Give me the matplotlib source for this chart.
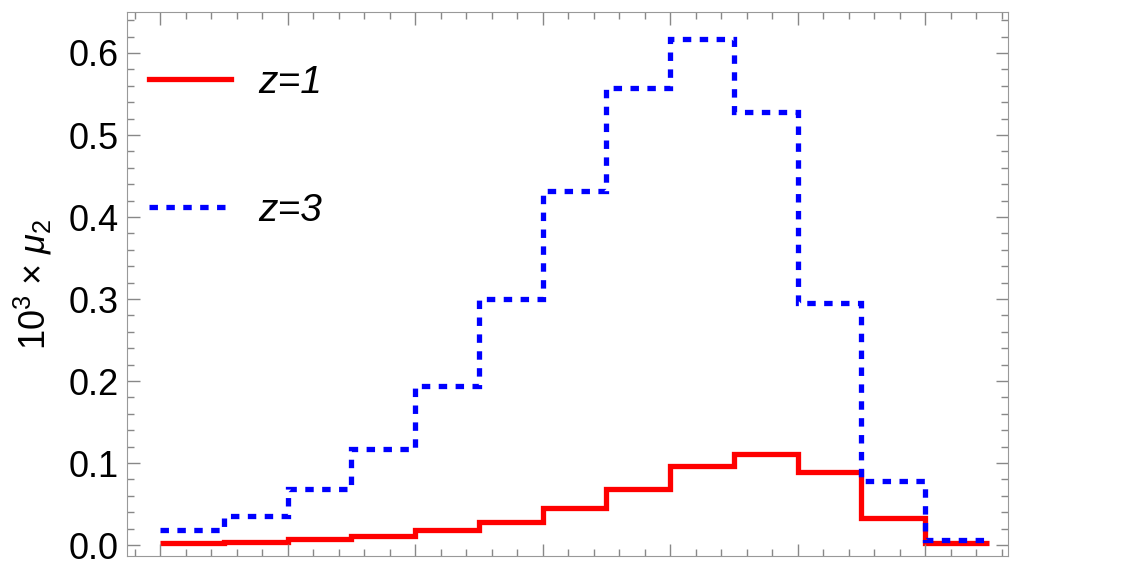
import numpy as np
import matplotlib
matplotlib.use('Agg')
from matplotlib import pyplot as plt
from matplotlib.ticker import MultipleLocator

plt.rcParams['font.family'] = ['Liberation Sans', 'DejaVu Sans']
plt.rcParams['mathtext.fontset'] = 'custom'
plt.rcParams['mathtext.rm'] = 'Liberation Sans'
plt.rcParams['mathtext.it'] = 'Liberation Sans:italic'

# bin edges and heights
edges = [0.0, 0.5, 1.0, 1.5, 2.0, 2.5, 3.0, 3.5, 4.0, 4.5, 5.0, 5.5, 6.0, 6.5]
mu_z1 = [0.002, 0.004, 0.007, 0.011, 0.018, 0.028, 0.045, 0.068, 0.096, 0.111, 0.089, 0.033, 0.003]
mu_z3 = [0.018, 0.035, 0.068, 0.117, 0.194, 0.300, 0.432, 0.557, 0.617, 0.528, 0.295, 0.078, 0.006]

fig = plt.figure(figsize=(11.48, 5.63), dpi=100)
ax = fig.add_axes([0.1106, 0.0124, 0.7675, 0.9663])

ax.stairs(mu_z1, edges, color='red', lw=3.8, label='z=1', baseline=None)
ax.stairs(mu_z3, edges, color='blue', lw=3.8, linestyle=(0, (1.6, 1.6)), label='z=3', baseline=None)

ax.set_xlim(-0.26, 6.65)
ax.set_ylim(-0.0134, 0.65)

ax.xaxis.set_major_locator(MultipleLocator(1))
ax.xaxis.set_minor_locator(MultipleLocator(0.2))
ax.yaxis.set_minor_locator(MultipleLocator(0.02))
ax.set_yticks([0, 0.1, 0.2, 0.3, 0.4, 0.5, 0.6])
ax.set_yticklabels(['0.0', '0.1', '0.2', '0.3', '0.4', '0.5', '0.6'])
ax.set_xticklabels([])

ax.tick_params(which='both', direction='in', top=True, right=True, color='#888888')
ax.tick_params(which='major', length=9, width=1)
ax.tick_params(which='minor', length=5, width=1)
ax.tick_params(axis='y', labelsize=26, pad=6)
for s in ax.spines.values():
    s.set_color('#999999')

ax.set_ylabel(r'$10^3$ × $\mu_2$', fontsize=26, labelpad=10)

leg = ax.legend(loc='upper left', frameon=False, fontsize=28, handlelength=2.1,
                labelspacing=2.36, handletextpad=0.7, borderaxespad=0.3,
                bbox_to_anchor=(-0.006, 0.953))
for t in leg.get_texts():
    t.set_fontstyle('italic')

fig.savefig('out.png', dpi=100)
